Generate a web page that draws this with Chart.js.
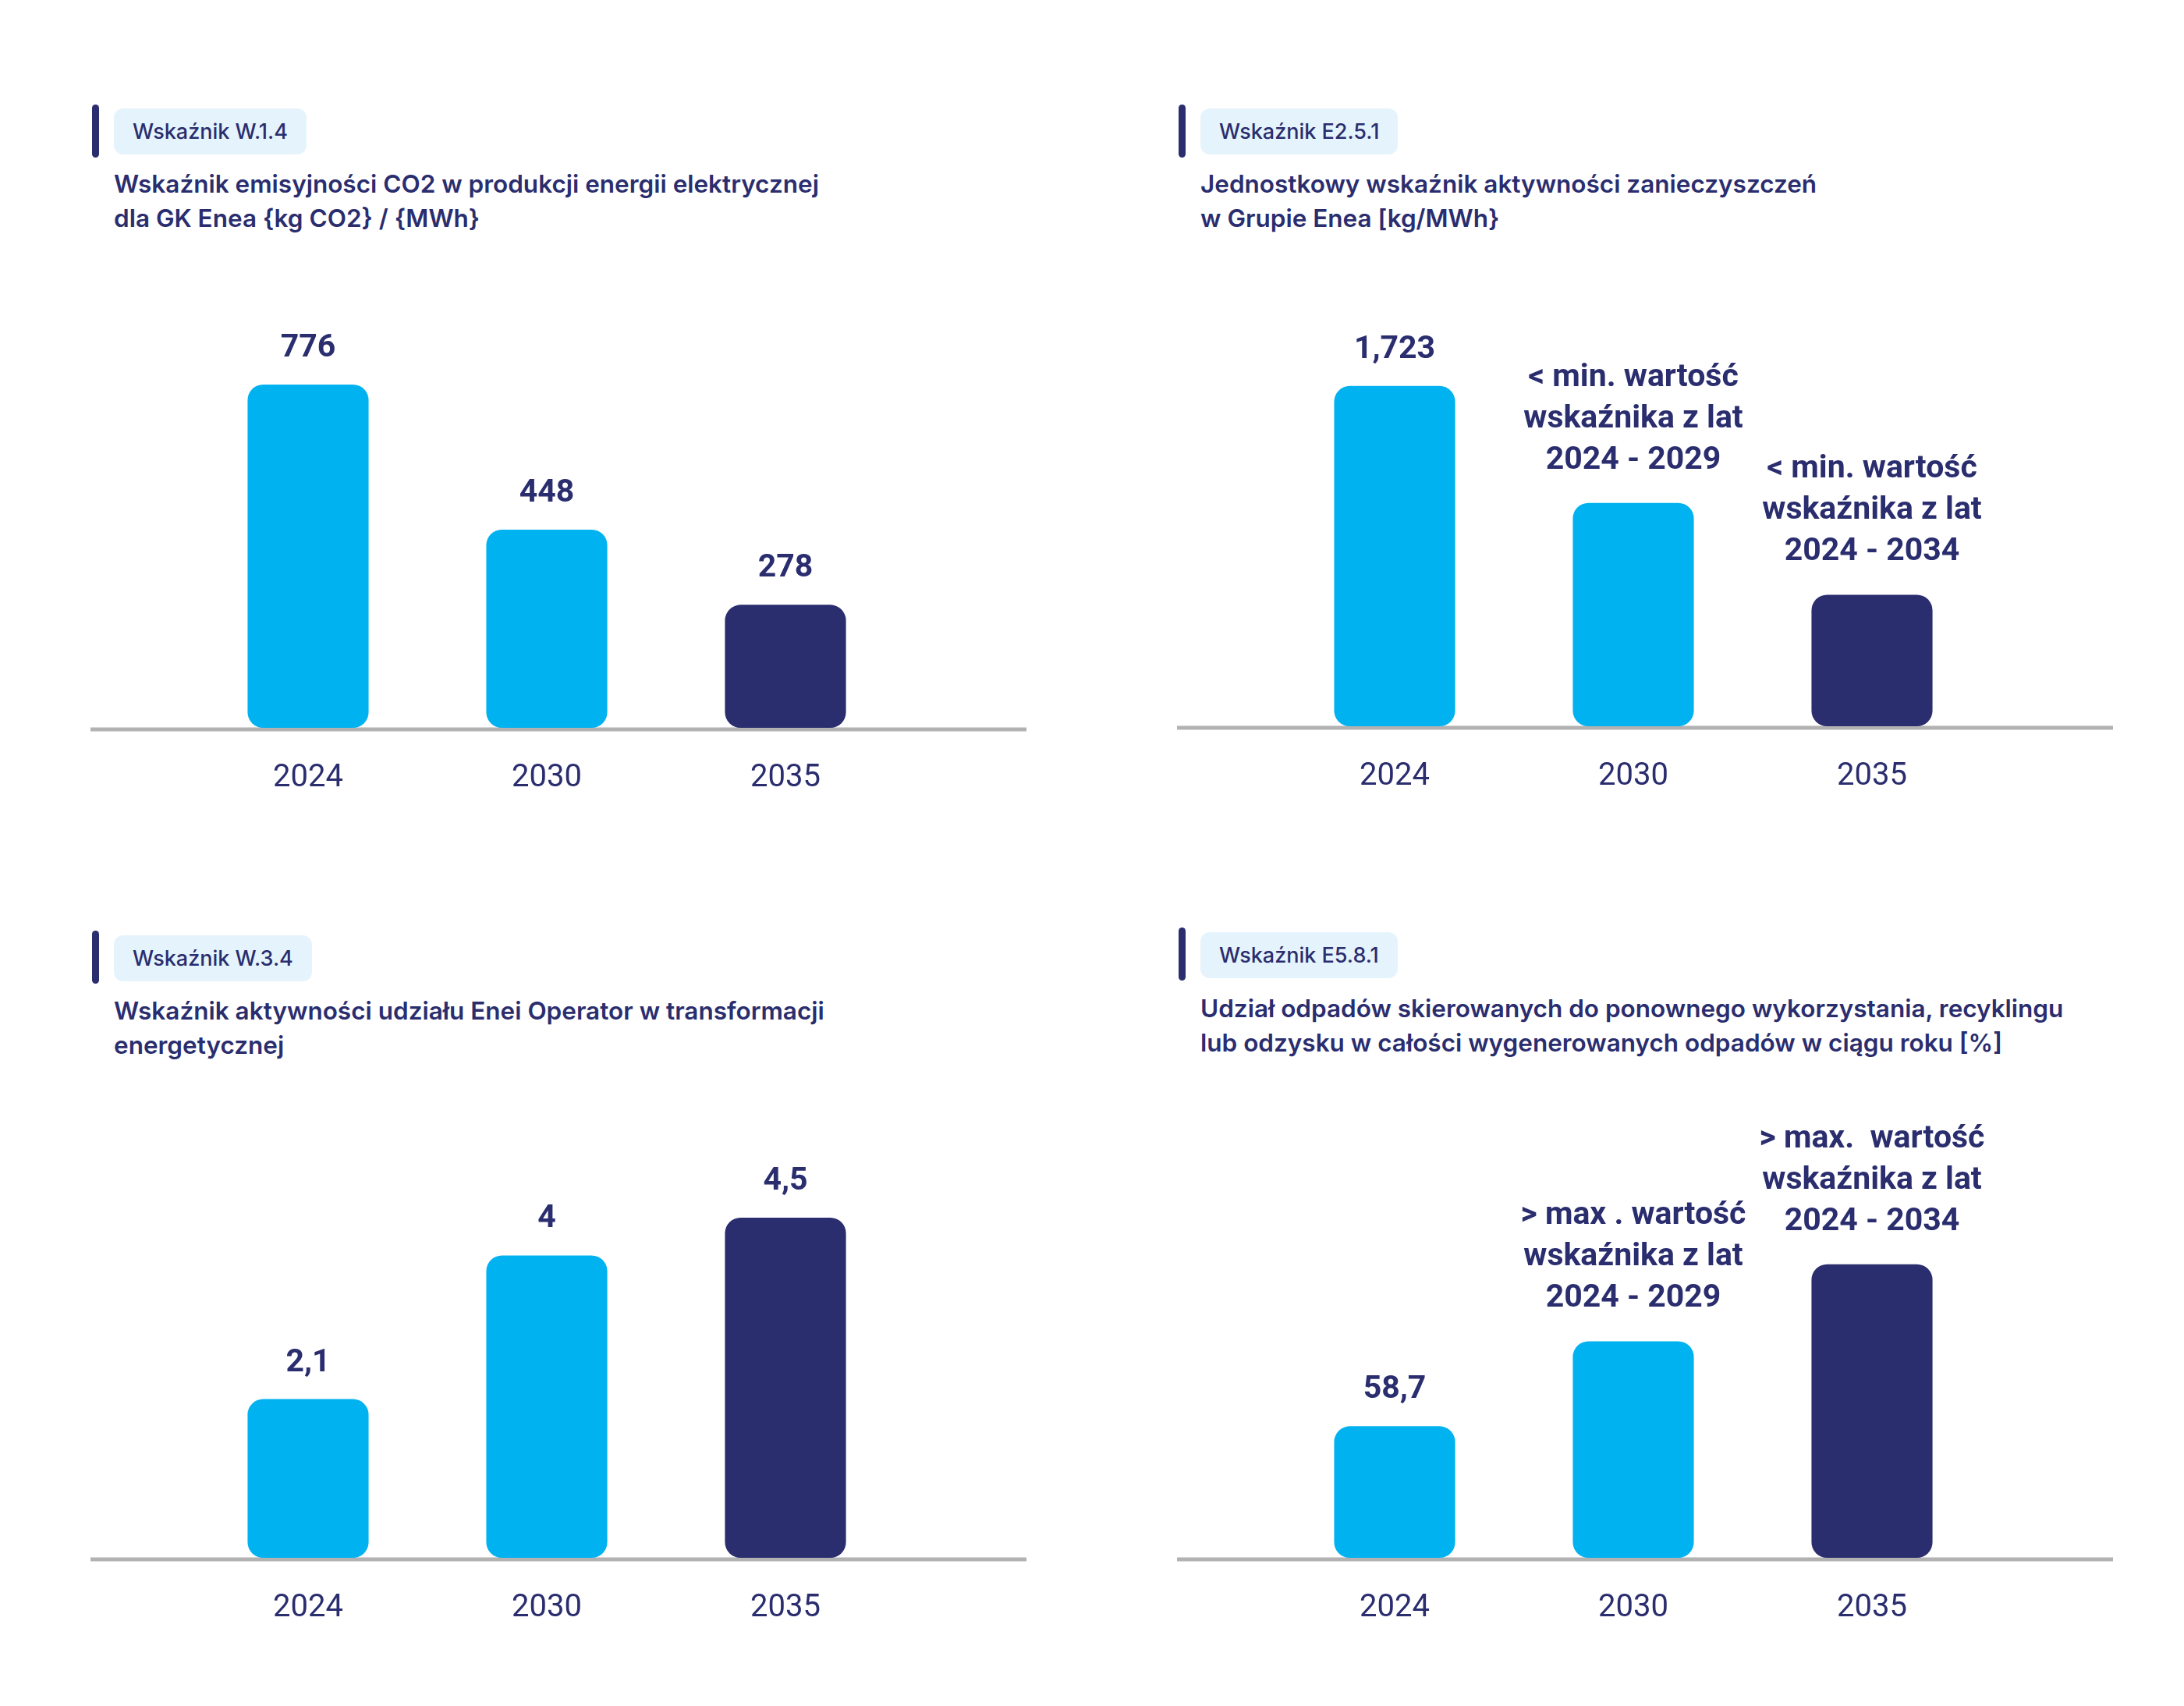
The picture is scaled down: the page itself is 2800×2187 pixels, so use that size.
<!DOCTYPE html>
<html>
<head>
<meta charset="utf-8">
<script src="https://cdn.jsdelivr.net/npm/chart.js@4"></script>
<style>
  body { margin: 0; width: 2800px; height: 2187px; background: #fff; position: relative; font-family: Inter, Roboto, sans-serif; color: #2A2D6E; }
  .mark { position: absolute; width: 9px; height: 68px; border-radius: 5px; background: #2A2D6E; }
  .tag { position: absolute; height: 59px; line-height: 59px; padding: 0 24px; border-radius: 12px; background: #E5F4FC; font-size: 27px; font-weight: 500; }
  .title { position: absolute; font-size: 31.5px; line-height: 44px; font-weight: 600; white-space: nowrap; }
  canvas { position: absolute; }
</style>
</head>
<body>
<div class="mark" style="left:118px;top:134px"></div>
<div class="tag" style="left:146px;top:139px">Wskaźnik W.1.4</div>
<div class="title" style="left:146px;top:214px">Wskaźnik emisyjności CO2 w produkcji energii elektrycznej<br>dla GK Enea {kg CO2} / {MWh}</div>
<canvas id="c1" width="1200" height="801" style="left:116px;top:280px"></canvas>

<div class="mark" style="left:1511px;top:134px"></div>
<div class="tag" style="left:1539px;top:139px">Wskaźnik E2.5.1</div>
<div class="title" style="left:1539px;top:214px">Jednostkowy wskaźnik aktywności zanieczyszczeń<br>w Grupie Enea [kg/MWh}</div>
<canvas id="c2" width="1200" height="801" style="left:1509px;top:278px"></canvas>

<div class="mark" style="left:118px;top:1193px"></div>
<div class="tag" style="left:146px;top:1199px">Wskaźnik W.3.4</div>
<div class="title" style="left:146px;top:1274px">Wskaźnik aktywności udziału Enei Operator w transformacji<br>energetycznej</div>
<canvas id="c3" width="1200" height="801" style="left:116px;top:1344px"></canvas>

<div class="mark" style="left:1511px;top:1189px"></div>
<div class="tag" style="left:1539px;top:1195px">Wskaźnik E5.8.1</div>
<div class="title" style="left:1539px;top:1271px">Udział odpadów skierowanych do ponownego wykorzystania, recyklingu<br>lub odzysku w całości wygenerowanych odpadów w ciągu roku [%]</div>
<canvas id="c4" width="1200" height="801" style="left:1509px;top:1344px"></canvas>

<script>
const categories = ["2024", "2030", "2035"];
const barColors = ["#00B2F0", "#00B2F0", "#2A2D6E"];

// W.1.4
const w14Values = [776, 448, 278];
const w14Labels = ["776", "448", "278"];
// E2.5.1 (2030/2035 heights)
const e251Values = [1723, 1131, 666];
const e251Labels = ["1,723",
    ["< min. wartość", "wskaźnika z lat", "2024 - 2029"],
    ["< min. wartość", "wskaźnika z lat", "2024 - 2034"]];
// W.3.4
const w34Values = [2.1, 4, 4.5];
const w34Labels = ["2,1", "4", "4,5"];
// E5.8.1 (2030/2035 heights)
const e581Values = [58.7, 96.6, 131];
const e581Labels = ["58,7",
    ["> max . wartość", "wskaźnika z lat", "2024 - 2029"],
    ["> max.  wartość", "wskaźnika z lat", "2024 - 2034"]];

Chart.defaults.font.family = "Roboto, sans-serif";
Chart.defaults.color = "#2A2D6E";

// grey base line across the whole panel
const baseLine = {
    id: "baseLine",
    beforeDatasetsDraw(chart) {
        const ctx = chart.ctx;
        const y = chart.scales.y.getPixelForValue(0) + 2;
        ctx.save();
        ctx.strokeStyle = "#B2B2B2";
        ctx.lineWidth = 5;
        ctx.beginPath();
        ctx.moveTo(0, y);
        ctx.lineTo(chart.width, y);
        ctx.stroke();
        ctx.restore();
    }
};

// value / note labels above the bars
const barLabels = {
    id: "barLabels",
    afterDatasetsDraw(chart) {
        const ctx = chart.ctx;
        const labels = chart.options.plugins.barLabels.labels;
        const meta = chart.getDatasetMeta(0);
        ctx.save();
        ctx.font = "bold 41px Roboto, sans-serif";
        ctx.fillStyle = "#2A2D6E";
        ctx.textAlign = "center";
        ctx.textBaseline = "alphabetic";
        meta.data.forEach(function (bar, i) {
            const lines = [].concat(labels[i]);
            const last = bar.y - (lines.length > 1 ? 44 : 36);
            lines.forEach(function (line, j) {
                ctx.fillText(line, bar.x, last - (lines.length - 1 - j) * 53);
            });
        });
        ctx.restore();
    }
};

function makeChart(id, values, labels, yMax) {
    return new Chart(document.getElementById(id), {
        type: "bar",
        data: {
            labels: categories,
            datasets: [{
                data: values,
                backgroundColor: barColors,
                borderRadius: 20,
                borderSkipped: false,
                barPercentage: 0.507,
                categoryPercentage: 1
            }]
        },
        options: {
            responsive: false,
            devicePixelRatio: 1,
            animation: false,
            layout: { padding: { left: 126, right: 156, top: 154, bottom: 18 } },
            plugins: {
                legend: { display: false },
                tooltip: { enabled: false },
                barLabels: { labels: labels }
            },
            scales: {
                x: {
                    grid: { display: false, drawTicks: false },
                    border: { display: false },
                    ticks: { font: { size: 40 }, color: "#2A2D6E", padding: 41 }
                },
                y: { display: false, min: 0, max: yMax }
            }
        },
        plugins: [baseLine, barLabels]
    });
}

makeChart("c1", w14Values, w14Labels, 880);
makeChart("c2", e251Values, e251Labels, 1971);
makeChart("c3", w34Values, w34Labels, 5.15);
makeChart("c4", e581Values, e581Labels, 173.7);
</script>
</body>
</html>
